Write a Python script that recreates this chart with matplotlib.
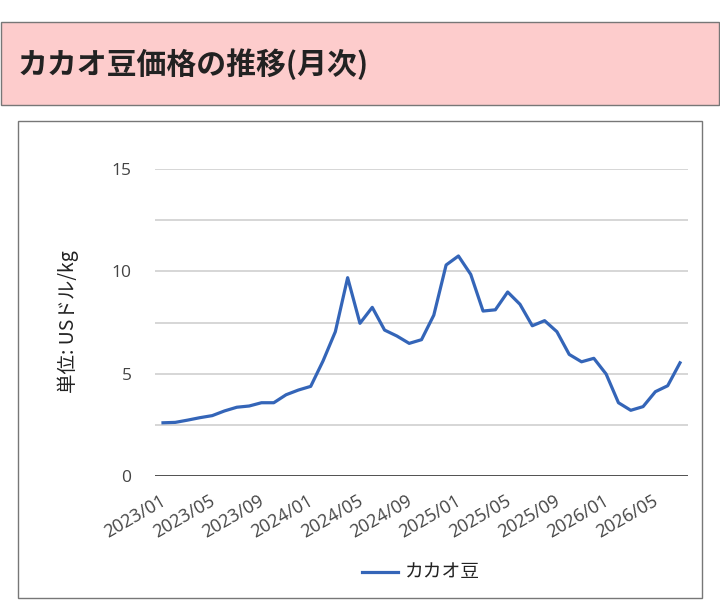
import numpy as np
import matplotlib.pyplot as plt
import matplotlib.transforms as mtransforms
from matplotlib.patches import Rectangle
from matplotlib.lines import Line2D

plt.rcParams['font.family'] = ['Noto Sans CJK JP', 'DejaVu Sans']

# monthly cocoa price, USD/kg, 2023/01 .. 2026/07
months = []
for y in range(2023, 2027):
    for m in range(1, 13):
        months.append("%d/%02d" % (y, m))
months = months[:43]
price = [2.60, 2.62, 2.73, 2.85, 2.95, 3.18, 3.36, 3.42, 3.58, 3.58,
         3.97, 4.20, 4.38, 5.62, 7.05, 9.69, 7.46, 8.24, 7.13, 6.84,
         6.48, 6.66, 7.86, 10.31, 10.75, 9.85, 8.06, 8.12, 8.99, 8.39,
         7.34, 7.59, 7.05, 5.94, 5.58, 5.75, 4.98, 3.58, 3.21, 3.39,
         4.12, 4.41, 5.53]
series_name = "カカオ豆"
title = "カカオ豆価格の推移(月次)"
ylabel = "単位: USドル/kg"

W, H = 720, 609
fig = plt.figure(figsize=(W / 100, H / 100), dpi=100)

# title box
fig.patches.append(Rectangle((0.5 / W, 1 - 105 / H), 718.5 / W, 83 / H,
                             transform=fig.transFigure, facecolor='#fdcccc',
                             edgecolor='#777777', linewidth=1.0, zorder=-2))
fig.text(18 / W, 1 - 64 / H, title, fontsize=21.5, fontweight='bold',
         color='#222222', va='center', ha='left')

# chart box
fig.patches.append(Rectangle((18 / W, 1 - 598 / H), 684 / W, 477 / H,
                             transform=fig.transFigure, facecolor='white',
                             edgecolor='#777777', linewidth=1.0, zorder=-2))

ax = fig.add_axes([155 / W, 1 - 476 / H, 533 / W, 307 / H])
ax.set_zorder(2)
ax.set_facecolor('none')
x = np.arange(len(price))
ax.plot(x, price, color='#3465b8', linewidth=2.3, zorder=3)

ax.set_ylim(0, 15)
ax.set_xlim(-0.65, len(price) - 1 + 0.65)
for g in [2.5, 5, 7.5, 10, 12.5, 15]:
    ax.axhline(g, color='#d0d0d0', linewidth=1.2, zorder=1)
ax.axhline(0, color='#333333', linewidth=1.2, zorder=2)

num_font = ['Open Sans', 'Noto Sans CJK JP']
ax.set_yticks([0, 5, 10, 15])
ax.set_yticklabels(['0', '5', '10', '15'], family=num_font, fontsize=12.5)
tick_idx = list(range(0, len(price), 4))
ax.set_xticks(tick_idx)
ax.set_xticklabels([months[i] for i in tick_idx], rotation=30, ha='right',
                   rotation_mode='anchor', family=num_font, fontsize=13)
ax.tick_params(axis='both', length=0, colors='#444444')
ax.tick_params(axis='y', pad=17)
ax.tick_params(axis='x', pad=7)
off = mtransforms.ScaledTranslation(-3 / 100, -6 / 100, fig.dpi_scale_trans)
for lab in ax.get_xticklabels():
    lab.set_transform(lab.get_transform() + off)
for s in ax.spines.values():
    s.set_visible(False)

fig.text(68 / W, 1 - 322 / H, ylabel, rotation=90, fontsize=14,
         color='#222222', va='center', ha='center')

# legend
fig.add_artist(Line2D([362 / W, 398 / W], [1 - 572 / H, 1 - 572 / H],
                      transform=fig.transFigure, color='#3465b8', linewidth=2.3))
fig.text(405 / W, 1 - 572 / H, series_name, fontsize=13.5, color='#222222',
         va='center', ha='left')

fig.savefig("out.png", dpi=100)
